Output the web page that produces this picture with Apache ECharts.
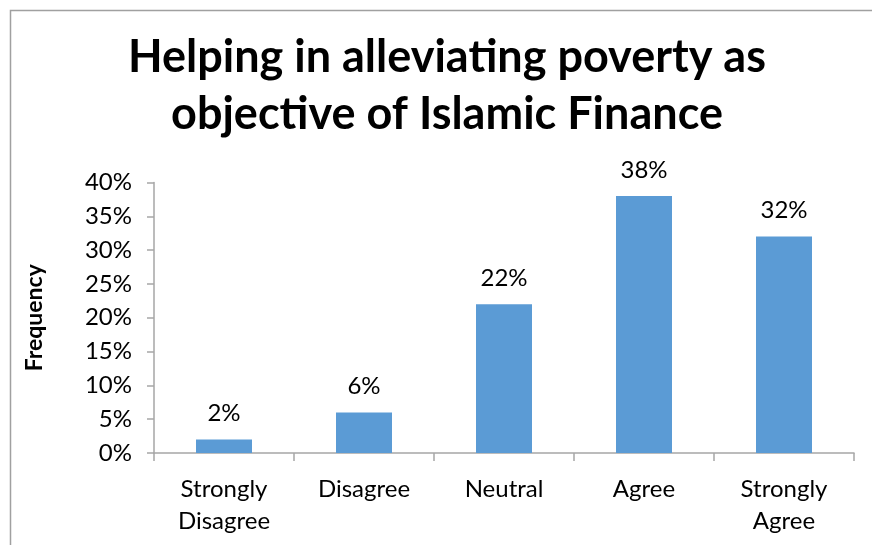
<!DOCTYPE html>
<html>
<head>
<meta charset="utf-8">
<script src="https://cdn.jsdelivr.net/npm/echarts@6/dist/echarts.min.js"></script>
<style>
  html, body { margin: 0; padding: 0; background: #ffffff; }
  #chart { width: 872px; height: 545px; }
</style>
</head>
<body>
<div id="chart"></div>
<script>
// Survey responses: share of respondents per answer
const categories = ['Strongly\nDisagree', 'Disagree', 'Neutral', 'Agree', 'Strongly\nAgree'];
const frequency = [2, 6, 22, 38, 32];
const yTicks = { min: 0, max: 40, interval: 5 };

const FONT = 'Lato, "Open Sans", sans-serif';
const AXIS_GREY = '#a6a6a6';

const chart = echarts.init(document.getElementById('chart'), null, { renderer: 'canvas' });

chart.setOption({
  backgroundColor: '#ffffff',
  animation: false,
  title: {
    text: 'Helping in alleviating poverty as\nobjective of Islamic Finance',
    // centred over the full chart frame, which runs past the right edge
    left: 447,
    textAlign: 'center',
    top: 29,
    padding: 0,
    textStyle: {
      fontFamily: FONT,
      fontWeight: 'bold',
      fontSize: 45,
      lineHeight: 57,
      color: '#000000'
    }
  },
  graphic: [
    {
      type: 'polyline',
      silent: true,
      shape: { points: [[10.5, 545], [10.5, 10.5], [872, 10.5]] },
      style: { stroke: '#a0a0a0', lineWidth: 1.5, fill: null }
    }
  ],
  grid: { left: 154, right: 18, top: 182.5, bottom: 92, containLabel: false },
  xAxis: {
    type: 'category',
    data: categories,
    axisLine: { lineStyle: { color: AXIS_GREY, width: 1.5 } },
    axisTick: { show: true, length: 8, alignWithLabel: false, lineStyle: { color: AXIS_GREY, width: 1.5 } },
    axisLabel: {
      color: '#000000',
      fontFamily: FONT,
      fontSize: 24,
      lineHeight: 32,
      margin: 20,
      interval: 0
    }
  },
  yAxis: {
    type: 'value',
    min: yTicks.min,
    max: yTicks.max,
    interval: yTicks.interval,
    name: 'Frequency',
    nameLocation: 'middle',
    nameGap: 108,
    nameRotate: 90,
    nameTextStyle: {
      color: '#000000',
      fontFamily: FONT,
      fontWeight: 'bold',
      fontSize: 23
    },
    splitLine: { show: false },
    axisLine: { show: true, lineStyle: { color: AXIS_GREY, width: 1.5 } },
    axisTick: { show: true, length: 7, lineStyle: { color: AXIS_GREY, width: 1.5 } },
    axisLabel: {
      color: '#000000',
      fontFamily: FONT,
      fontSize: 24,
      margin: 22,
      formatter: v => v + '%'
    }
  },
  series: [
    {
      type: 'bar',
      data: frequency,
      barWidth: '40%',
      itemStyle: { color: '#5b9bd5' },
      label: {
        show: true,
        position: 'top',
        distance: 14,
        color: '#000000',
        fontFamily: FONT,
        fontSize: 24,
        formatter: p => p.value + '%'
      }
    }
  ]
});
</script>
</body>
</html>
